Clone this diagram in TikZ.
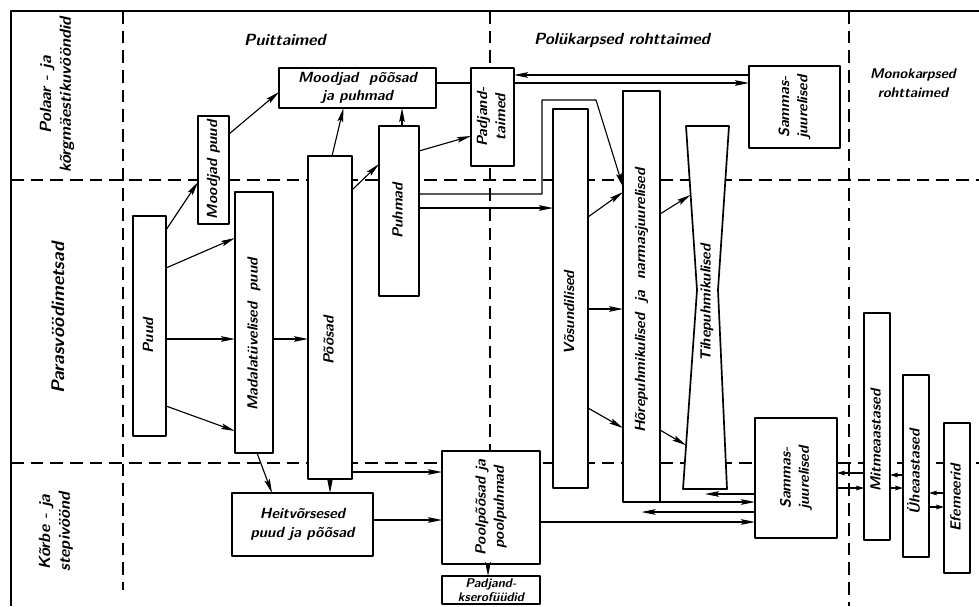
\documentclass[tikz,border=0pt]{standalone}
\usetikzlibrary{calc, arrows.meta}

\newcommand{\skfont}{\sffamily\bfseries\slshape\fontsize{10.5}{13}\selectfont}
\newcommand{\hdfont}{\sffamily\bfseries\slshape\fontsize{11.5}{14}\selectfont}
\newcommand{\vtxt}[2][0pt]{\rotatebox{90}{\begin{tabular}{@{}c@{}}#2\end{tabular}\hspace*{#1}}}

\begin{document}
\begin{tikzpicture}[
    x=0.025cm, y=-0.025cm,
    line join=round,
    font=\skfont,
    box/.style={draw, fill=white, line width=1.2pt, inner sep=0pt, outer sep=0pt, align=center},
    sz/.style 2 args={minimum width=#1*0.025cm, minimum height=#2*0.025cm},
    arr/.style={-{Stealth[length=3.5mm, width=1.4mm, inset=0.6mm]}, line width=0.8pt},
    sarr/.style={-{Stealth[length=2mm, width=1.2mm, inset=0.4mm]}, line width=0.8pt},
    zone/.style={line width=1.2pt, dash pattern=on 9pt off 5pt},
    head/.style={font=\hdfont, align=center}
]

  \useasboundingbox (0,0) rectangle (979,606);

  % ==================== 1. RAAM JA VÖÖNDID ====================
  \draw[line width=1.4pt] (11,606) -- (11,11) -- (979,11);

  \draw[zone] (123,11) -- (123,590);
  \draw[zone] (490,11) -- (490,451);
  \draw[zone] (849,11) -- (849,606);
  \draw[zone] (11,180) -- (979,180);
  \draw[zone] (11,463) -- (979,463);

  % ==================== 2. PEALKIRJAD ====================
  \node[head] (puit) at (285,40) {Puittaimed};
  \node[head] (poly) at (622,40) {Polükarpsed rohttaimed};
  \node[align=center, font=\sffamily\bfseries\slshape\fontsize{10}{13.5}\selectfont] (mono) at (913,83) {Monokarpsed\\rohttaimed};

  \node[head] (polaar) at (57,95) {\vtxt{Polaar - ja\\kõrgmäestikuvööndid}};
  \node[head, font=\sffamily\bfseries\slshape\fontsize{13}{15}\selectfont] (paras) at (60,318) {\vtxt{Parasvöödimetsad}};
  \node[head] (korbe) at (56,532) {\vtxt{Kõrbe - ja\\stepivöönd}};

  % ==================== 3. PUITTAIMED ====================
  \node[box, sz={31}{108}] (moodpuud) at (213.5,170) {\vtxt{Moodjad puud}};
  \node[box, sz={33}{220}] (puud) at (149.5,326) {\vtxt[0.5cm]{Puud}};
  \node[box, sz={38}{261}] (madal) at (254,322.5) {\vtxt[0.6cm]{Madalatüvelised\ \ puud}};
  \node[box, sz={44}{323}] (poosad) at (330,317.5) {\vtxt[1.15cm]{Põõsad}};
  \node[box, sz={157}{40}] (moodpoos) at (357.5,88) {Moodjad\ \ põõsad\\ja puhmad};
  \node[box, sz={40}{170}] (puhmad) at (399,211) {\vtxt{Puhmad}};
  \node[box, sz={141}{63}] (heit) at (302.5,524.5) {Heitvõrsesed\\puud ja põõsad};

  % ==================== 4. POLÜKARPSED ROHTTAIMED ====================
  \node[box, sz={43}{98}] (padjand) at (492.5,117) {\vtxt{Padjand-\\taimed}};
  \node[box, sz={91}{82}] (sammas1) at (794.5,107) {\vtxt{Sammas-\\juurelised}};
  \node[box, sz={35}{379}] (vosund) at (570.5,298.5) {\vtxt[0.7cm]{Võsundilised}};
  \node[box, sz={37}{411}] (hore) at (641.5,296.5) {\vtxt[0.2cm]{Hõrepuhmikulised\ \ ja\ \ narmasjuurelised}};

  % Tihepuhmikulised (liivakell)
  \draw[line width=1.2pt, fill=white]
    (686,126) coordinate (tihe-tl) -- (729,126) coordinate (tihe-tr)
    -- (718,290) coordinate (tihe-wr) -- (727,489) coordinate (tihe-br)
    -- (683,489) coordinate (tihe-bl) -- (697,290) coordinate (tihe-wl) -- cycle;
  \coordinate (tihe-b) at ($(tihe-bl)!0.5!(tihe-br)$);
  \node (tihe) at (707,303) {\vtxt{Tihepuhmikulised}};

  \node[box, sz={82}{120}] (sammas2) at (796,478) {\vtxt{Sammas-\\juurelised}};
  \node[box, sz={98}{113}] (poolp) at (491,507.5) {\vtxt{Poolpõõsad ja\\poolpuhmad}};
  \node[box, sz={98}{28}, font=\sffamily\bfseries\slshape\fontsize{9}{10}\selectfont] (kserof) at (491,590) {Padjand-\\kserofüüdid};

  % ==================== 5. MONOKARPSED ROHTTAIMED ====================
  \node[box, sz={26}{227}] (mitme) at (877,426.5) {\vtxt[0.7cm]{Mitmeaastased}};
  \node[box, sz={26}{182}] (uhe) at (916,466) {\vtxt[0.3cm]{Üheaastased}};
  \node[box, sz={26}{150}] (efem) at (957,498) {\vtxt{Efemeerid}};

  % ==================== 6. NOOLED ====================
  % puud
  \draw[arr] ([shift={(0,14)}]puud.north east) -- ([shift={(0,12)}]moodpuud.west);
  \draw[arr] ([shift={(0,18)}]moodpuud.north east) -- ([shift={(0,4)}]moodpoos.west);
  \draw[arr] ([shift={(0,52)}]puud.north east) -- ([shift={(0,46)}]madal.north west);
  \draw[arr] ([shift={(0,13)}]puud.east) coordinate (d1) -- (d1 -| madal.west);
  \draw[arr] ([shift={(0,-30)}]puud.south east) -- ([shift={(0,-22)}]madal.south west);
  \draw[arr] ([shift={(0,16.5)}]madal.east) coordinate (f1) -- (f1 -| poosad.west);
  \draw[arr] ([shift={(3,0)}]madal.south) -- ([shift={(40,0)}]heit.north west);

  % põõsad ja puhmad
  \draw[arr] (poosad.south) -- (poosad.south |- heit.north);
  \draw[arr] ([shift={(2,0)}]poosad.north) -- ([shift={(-14,0)}]moodpoos.south);
  \draw[arr] ([shift={(0,34)}]poosad.north east) -- ([shift={(0,38)}]puhmad.north west);
  \draw[arr] ([shift={(3,0)}]puhmad.north) coordinate (k1) -- (k1 |- moodpoos.south);
  \draw[arr] ([shift={(0,25)}]puhmad.north east) -- ([shift={(0,-30)}]padjand.south west);
  \draw[line width=0.8pt] ([shift={(0,-5)}]moodpoos.east) coordinate (m1) -- (m1 -| padjand.west);

  % padjandtaimed <-> sammasjuurelised
  \draw[arr] ([shift={(0,-32)}]sammas1.west) coordinate (n1) -- (n1 -| padjand.east);
  \draw[arr] ([shift={(0,-34)}]padjand.east) coordinate (n2) -- (n2 -| sammas1.west);

  % puhmad -> rohttaimed
  \draw[arr] ([shift={(0,-17)}]puhmad.east) -- ++(123,0) -- ++(0,-94) -- ++(54,0)
    -- ([shift={(0,96)}]hore.north west);
  \draw[arr] ([shift={(0,-3)}]puhmad.east) coordinate (p1) -- (p1 -| vosund.west);

  % võsundilised -> hõrepuhmikulised -> tihepuhmikulised
  \draw[arr] ([shift={(0,108)}]vosund.north east) -- ([shift={(0,101)}]hore.north west);
  \draw[arr] ([shift={(0,10.5)}]vosund.east) coordinate (r1) -- (r1 -| hore.west);
  \draw[arr] ([shift={(0,-80)}]vosund.south east) -- ([shift={(0,-74)}]hore.south west);
  \draw[arr] ([shift={(0,123)}]hore.north east) -- ($(tihe-tl)!0.42!(tihe-wl)$);
  \draw[arr] ([shift={(0,-72)}]hore.south east) -- ($(tihe-wl)!0.78!(tihe-bl)$);

  % alumine vöönd
  \draw[arr] ([shift={(0,-7)}]poosad.south east) coordinate (v1) -- (v1 -| poolp.west);
  \draw[arr] ([shift={(0,-4.5)}]heit.east) coordinate (w1) -- (w1 -| poolp.west);
  \draw[arr] ([shift={(-3,0)}]poolp.south) coordinate (x1) -- (x1 |- kserof.north);
  \draw[arr] ([shift={(0,14.5)}]poolp.east) coordinate (y1) -- (y1 -| sammas2.west);
  \draw[arr] ([shift={(0,16)}]sammas2.west) coordinate (z1) -- (z1 -| tihe-b);
  \draw[arr] (hore.south east) coordinate (z2) -- (z2 -| sammas2.west);
  \draw[arr] ([shift={(0,34)}]sammas2.west) coordinate (z3) -- (z3 -| hore.south);

  % monokarpsed
  \draw[sarr] ([shift={(0,46.5)}]mitme.west) coordinate (a1) -- (a1 -| sammas2.east);
  \draw[sarr] ([shift={(0,10)}]sammas2.east) coordinate (a2) -- (a2 -| mitme.west);
  \draw[sarr] ([shift={(0,9)}]uhe.west) coordinate (a3) -- (a3 -| mitme.east);
  \draw[sarr] ([shift={(0,61.5)}]mitme.east) coordinate (a4) -- (a4 -| uhe.west);
  \draw[sarr] ([shift={(0,-5)}]efem.west) coordinate (a5) -- (a5 -| uhe.east);
  \draw[sarr] ([shift={(0,41)}]uhe.east) coordinate (a6) -- (a6 -| efem.west);

\end{tikzpicture}
\end{document}
